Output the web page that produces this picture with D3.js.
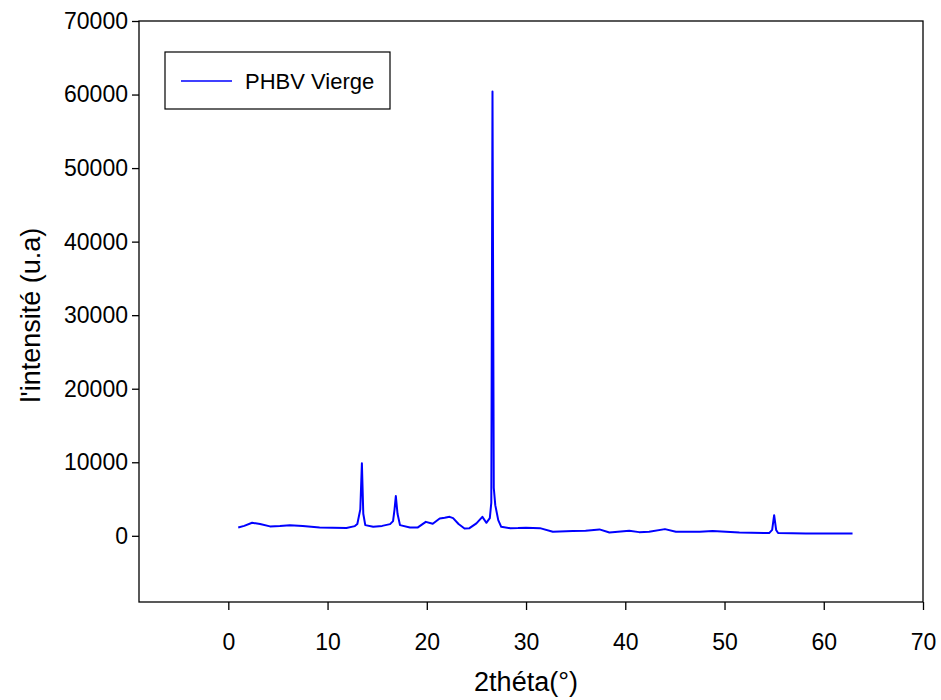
<!DOCTYPE html>
<html>
<head>
<meta charset="utf-8">
<script src="https://cdn.jsdelivr.net/npm/d3@7"></script>
<style>
  body { margin: 0; background: #fff; }
  .chart text { font-family: "Liberation Sans", Arial, sans-serif; fill: #000; }
  .axis line { stroke: #000; stroke-width: 1.3px; }
</style>
</head>
<body>
<svg class="chart" width="941" height="700"></svg>
<script>
// 2theta (deg) and intensity
var twoTheta = [1.0, 1.6, 2.4, 3.2, 4.2, 5.2, 6.2, 7.5, 9.2, 10.5, 11.9, 12.75, 13.0, 13.3, 13.46, 13.6, 13.8,
  14.6, 15.5, 16.3, 16.6, 16.75, 16.88, 17.05, 17.3, 18.3, 19.1, 19.9, 20.6, 21.3, 21.8, 22.3, 22.65, 23.2,
  23.8, 24.3, 25.0, 25.6, 26.0, 26.35, 26.5, 26.62, 26.75, 26.9, 27.2, 27.5, 28.4, 29.2, 30.0, 31.4, 32.7,
  34.7, 36.0, 37.4, 38.4, 40.4, 41.4, 42.4, 44.0, 45.1, 47.5, 48.8, 51.5, 54.5, 54.8, 55.0, 55.2, 55.4,
  58.2, 62.9];
var intensity = [1140, 1350, 1770, 1600, 1280, 1350, 1450, 1350, 1140, 1100, 1050, 1320, 1600, 3600, 9850, 3000, 1450,
  1220, 1350, 1590, 2000, 3600, 5400, 3000, 1450, 1140, 1140, 1900, 1630, 2360, 2450, 2580, 2400, 1600,
  1000, 1040, 1700, 2580, 1770, 2400, 4500, 60400, 6500, 4170, 2140, 1220, 1040, 1050, 1090, 1040, 545,
  640, 700, 870, 460, 680, 500, 545, 910, 545, 545, 640, 460, 370, 800, 2800, 800, 370,
  330, 330];
var xTicks = [0, 10, 20, 30, 40, 50, 60, 70];
var yTicks = [0, 10000, 20000, 30000, 40000, 50000, 60000, 70000];
var seriesName = "PHBV Vierge";

var margin = {top: 21, right: 18, bottom: 98, left: 139};
var width = 941 - margin.left - margin.right;
var height = 700 - margin.top - margin.bottom;

var svg = d3.select("svg");
var g = svg.append("g").attr("transform", "translate(" + margin.left + "," + margin.top + ")");

var x = d3.scaleLinear().domain([-9, 70]).range([0, width]);
var y = d3.scaleLinear().domain([-9000, 70000]).range([height, 0]);

// frame
g.append("rect").attr("width", width).attr("height", height)
  .attr("fill", "none").attr("stroke", "#000").attr("stroke-width", 1.3);

var xAxis = g.append("g").attr("class", "axis")
  .attr("transform", "translate(0," + height + ")")
  .call(d3.axisBottom(x).tickValues(xTicks).tickSize(8).tickPadding(24).tickFormat(d3.format("d")));
xAxis.select(".domain").remove();
xAxis.selectAll(".tick text").style("font-size", "23px");

var yAxis = g.append("g").attr("class", "axis")
  .call(d3.axisLeft(y).tickValues(yTicks).tickSize(7).tickPadding(4).tickFormat(d3.format("d")));
yAxis.select(".domain").remove();
yAxis.selectAll("text").style("font-size", "23px");

// data line
var line = d3.line().x(function(d){ return x(d[0]); }).y(function(d){ return y(d[1]); });
g.append("path").datum(d3.zip(twoTheta, intensity))
  .attr("d", line).attr("fill", "none").attr("stroke", "#0000ff").attr("stroke-width", 2)
  .attr("stroke-linejoin", "round");

// legend
var lg = svg.append("g").attr("transform", "translate(165,52)");
lg.append("rect").attr("width", 225).attr("height", 57).attr("fill", "#fff")
  .attr("stroke", "#000").attr("stroke-width", 1.2);
lg.append("line").attr("x1", 16).attr("x2", 67).attr("y1", 29).attr("y2", 29)
  .attr("stroke", "#0000ff").attr("stroke-width", 1.6);
lg.append("text").attr("x", 80).attr("y", 37).style("font-size", "22px").text(seriesName);

// axis titles
svg.append("text").attr("x", margin.left + x(30)).attr("y", 691)
  .attr("text-anchor", "middle").style("font-size", "27px").text("2théta(°)");
svg.append("text").attr("transform", "translate(40,315) rotate(-90)")
  .attr("text-anchor", "middle").style("font-size", "27px").text("l'intensité (u.a)");
</script>
</body>
</html>
